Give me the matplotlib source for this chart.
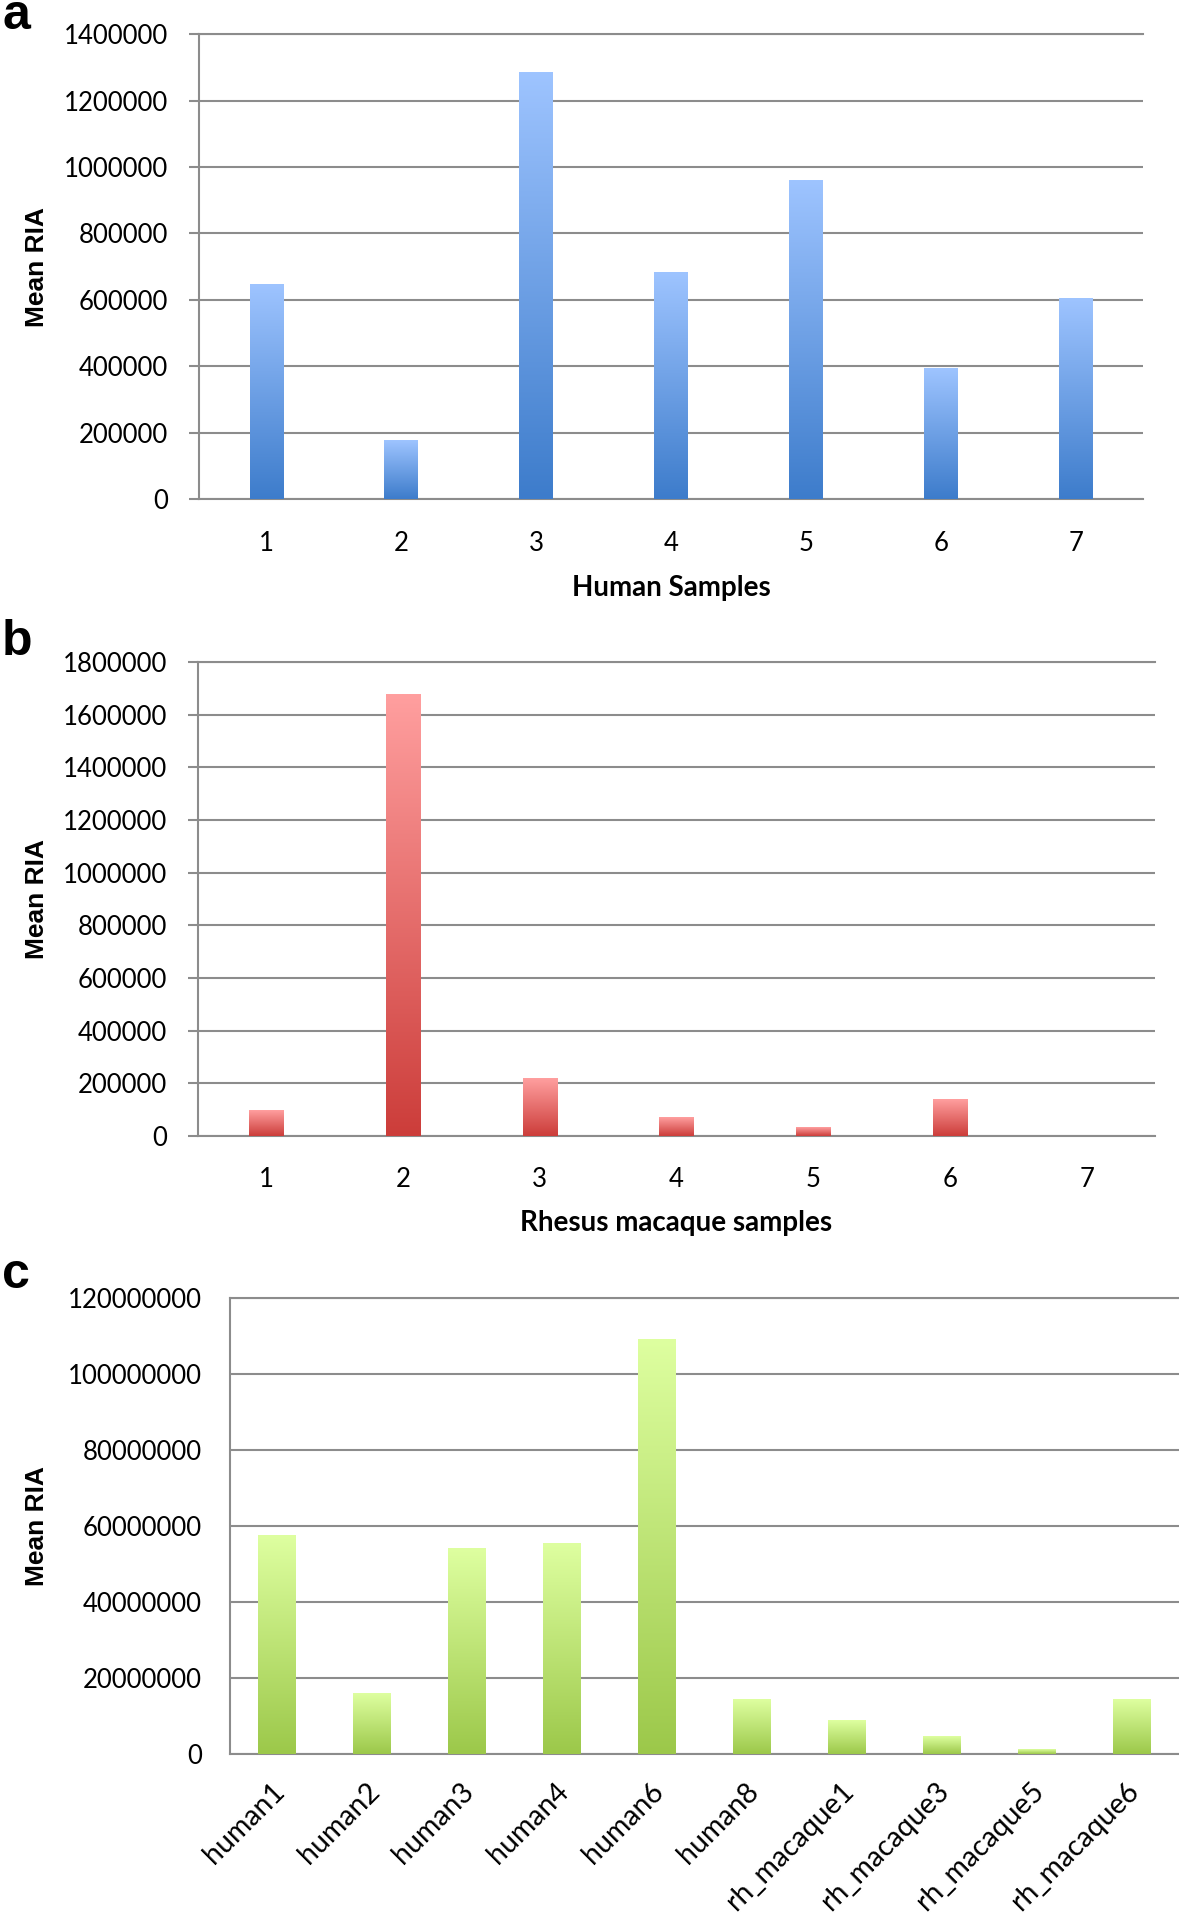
import matplotlib
matplotlib.use('Agg')
import matplotlib.pyplot as plt
import numpy as np
from matplotlib.colors import LinearSegmentedColormap
from matplotlib.ticker import StrMethodFormatter
from matplotlib.transforms import ScaledTranslation

plt.rcParams['font.family'] = ['Lato', 'DejaVu Sans']

# panel a - human samples
human_samples = ['1', '2', '3', '4', '5', '6', '7']
human_ria = [646000, 175000, 1286000, 682000, 961000, 394000, 605000]

# panel b - rhesus macaque samples
rhesus_samples = ['1', '2', '3', '4', '5', '6', '7']
rhesus_ria = [96000, 1676000, 220000, 70000, 34000, 137000, 0]

# panel c - all samples
all_samples = ['human1', 'human2', 'human3', 'human4', 'human6', 'human8',
               'rh_macaque1', 'rh_macaque3', 'rh_macaque5', 'rh_macaque6']
all_ria = [57.4e6, 16.0e6, 54.1e6, 55.5e6, 109.2e6, 14.4e6,
           8.8e6, 4.7e6, 1.1e6, 14.4e6]

GRID = '#8c8c8c'
W, H = 1179, 1913

fig = plt.figure(figsize=(W / 100, H / 100), dpi=100)


def px_axes(left, right, top, bottom):
    return fig.add_axes([left / W, 1 - bottom / H, (right - left) / W, (bottom - top) / H])


def gradient_bars(ax, bars, top_col, bot_col):
    cmap = LinearSegmentedColormap.from_list('g', [bot_col, top_col])
    grad = np.linspace(0, 1, 256).reshape(-1, 1)
    for b in bars:
        x, y = b.get_xy()
        w, h = b.get_width(), b.get_height()
        b.set_facecolor('none')
        b.set_edgecolor('none')
        if h <= 0:
            continue
        ax.imshow(grad, cmap=cmap, extent=[x, x + w, y, y + h], origin='lower',
                  aspect='auto', zorder=3, interpolation='bilinear')


def style(ax, ymax, step, ticklen, ypad):
    ax.set_ylim(0, ymax)
    ax.set_yticks(np.arange(0, ymax + 1, step))
    ax.yaxis.set_major_formatter(StrMethodFormatter('{x:.0f}'))
    ax.yaxis.grid(True, color=GRID, lw=1.5)
    ax.set_axisbelow(True)
    for s in ['left', 'top', 'bottom']:
        ax.spines[s].set_color(GRID)
        ax.spines[s].set_linewidth(1.5)
    ax.spines['right'].set_visible(False)
    ax.tick_params(axis='y', length=ticklen, width=1.5, color=GRID, pad=ypad, labelsize=18.5)


def draw(ax, cats, vals, width, top_col, bot_col):
    x = np.arange(len(cats))
    bars = ax.bar(x, vals, width=width)
    gradient_bars(ax, bars, top_col, bot_col)
    ax.set_xlim(-0.5, len(cats) - 0.5)
    ax.set_xticks(x)
    return x


# ---- a
ax1 = px_axes(199, 1143, 34.3, 499)
draw(ax1, human_samples, human_ria, 0.25, '#9ec4ff', '#3d7ccb')
style(ax1, 1400000, 200000, 7.2, 15)
ax1.set_xticklabels(human_samples)
ax1.tick_params(axis='x', length=0, pad=23, labelsize=18.5)
ax1.set_xlabel('Human Samples', fontsize=20, fontweight='bold', va='center')
ax1.xaxis.set_label_coords(0.5, -89 / 464.7)
ax1.set_ylabel('Mean RIA', family='Liberation Sans', fontweight='bold', fontsize=19, va='center')
ax1.yaxis.set_label_coords(37.5 / W, 1 - 266.7 / H, transform=fig.transFigure)

# ---- b
ax2 = px_axes(198, 1155, 662, 1136)
draw(ax2, rhesus_samples, rhesus_ria, 0.25, '#ff9f9f', '#cc3d3a')
style(ax2, 1800000, 200000, 7.2, 15)
ax2.set_xticklabels(rhesus_samples)
ax2.tick_params(axis='x', length=0, pad=22.5, labelsize=18.5)
ax2.set_xlabel('Rhesus macaque samples', fontsize=20, fontweight='bold', va='center')
ax2.xaxis.set_label_coords(0.5, -87 / 474)
ax2.set_ylabel('Mean RIA', family='Liberation Sans', fontweight='bold', fontsize=19, va='center')
ax2.yaxis.set_label_coords(37.5 / W, 1 - 899 / H, transform=fig.transFigure)

# ---- c
ax3 = px_axes(229.7, 1179, 1298, 1754)
draw(ax3, all_samples, all_ria, 0.40, '#deffa0', '#9cc84a')
style(ax3, 120000000, 20000000, 0, 20)
ax3.set_xticklabels(all_samples, rotation=45, ha='right', va='center',
                    rotation_mode='anchor', fontsize=20.5)
ax3.tick_params(axis='x', length=0, pad=24)
shift = ScaledTranslation(0.03, 0, fig.dpi_scale_trans)
for lab in ax3.get_xticklabels():
    lab.set_transform(lab.get_transform() + shift)
ax3.set_ylabel('Mean RIA', family='Liberation Sans', fontweight='bold', fontsize=19, va='center')
ax3.yaxis.set_label_coords(37.5 / W, 1 - 1526 / H, transform=fig.transFigure)

# panel letters
for letter, base in [('a', 29), ('b', 655), ('c', 1288)]:
    fig.text(2 / W, 1 - base / H, letter, ha='left', va='baseline', fontsize=36,
             fontweight='bold', family='Liberation Sans')

fig.savefig('out.png', dpi=100)
